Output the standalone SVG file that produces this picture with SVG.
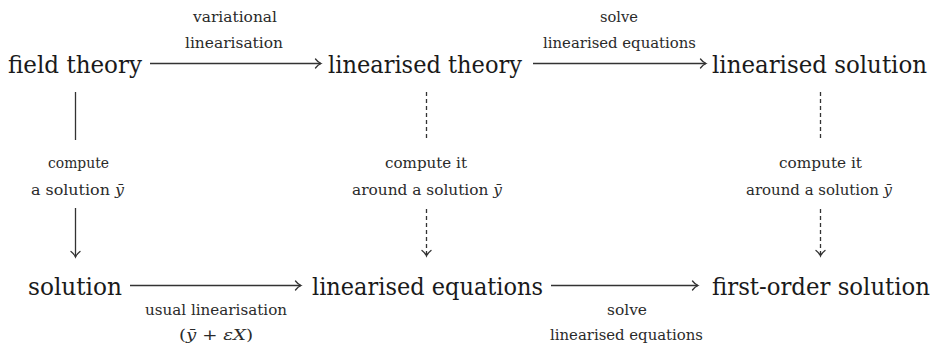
<svg xmlns="http://www.w3.org/2000/svg" width="935" height="347" viewBox="0 0 935 347">
<defs>
<marker id="to" markerUnits="userSpaceOnUse" markerWidth="14" markerHeight="14" refX="0" refY="0" viewBox="-8 -7 10 14" orient="auto" overflow="visible">
<path d="M-5.5,-4.5 C-3.5,-1.8 -1.2,-0.5 0,0 C-1.2,0.5 -3.5,1.8 -5.5,4.5" fill="none" stroke="#333" stroke-width="1.3" stroke-linecap="round"/>
</marker>
</defs>
<style>
text{font-family:'DejaVu Serif Condensed','DejaVu Serif',serif;font-stretch:condensed}
.node{font-size:25px;fill:#1a1a1a;text-anchor:middle}
.lab{font-size:14px;fill:#2a2a2a;text-anchor:middle}
.edge{stroke:#333;stroke-width:1.3;fill:none}
.dash{stroke-dasharray:4 3}
.m{font-style:italic}
</style>
<rect width="935" height="347" fill="#fff"/>
<g id="connectors">
<line class="edge" x1="150" y1="63.5" x2="321" y2="63.5" marker-end="url(#to)"/>
<line class="edge" x1="533" y1="63.5" x2="706" y2="63.5" marker-end="url(#to)"/>
<line class="edge" x1="130" y1="285.5" x2="301" y2="285.5" marker-end="url(#to)"/>
<line class="edge" x1="551" y1="285.5" x2="698" y2="285.5" marker-end="url(#to)"/>
<line class="edge" x1="75.5" y1="92" x2="75.5" y2="140"/>
<line class="edge" x1="75.5" y1="208" x2="75.5" y2="257" marker-end="url(#to)"/>
<line class="edge dash" x1="426.5" y1="92" x2="426.5" y2="138"/>
<line class="edge dash" x1="426.5" y1="209" x2="426.5" y2="256" marker-end="url(#to)"/>
<line class="edge dash" x1="820.5" y1="92" x2="820.5" y2="138"/>
<line class="edge dash" x1="820.5" y1="209" x2="820.5" y2="256" marker-end="url(#to)"/>
<text class="lab" x="235" y="22" textLength="84" lengthAdjust="spacingAndGlyphs">variational</text>
<text class="lab" x="234" y="48" textLength="98" lengthAdjust="spacingAndGlyphs">linearisation</text>
<text class="lab" x="619" y="22" textLength="38" lengthAdjust="spacingAndGlyphs">solve</text>
<text class="lab" x="619.5" y="48" textLength="153" lengthAdjust="spacingAndGlyphs">linearised equations</text>
<text class="lab" x="78.5" y="168" textLength="61" lengthAdjust="spacingAndGlyphs">compute</text>
<text class="lab" x="77.5" y="195" textLength="93" lengthAdjust="spacingAndGlyphs">a solution <tspan class="m">ȳ</tspan></text>
<text class="lab" x="426" y="168" textLength="82" lengthAdjust="spacingAndGlyphs">compute it</text>
<text class="lab" x="427" y="195" textLength="150" lengthAdjust="spacingAndGlyphs">around a solution <tspan class="m">ȳ</tspan></text>
<text class="lab" x="820.5" y="168" textLength="83" lengthAdjust="spacingAndGlyphs">compute it</text>
<text class="lab" x="819" y="195" textLength="146" lengthAdjust="spacingAndGlyphs">around a solution <tspan class="m">ȳ</tspan></text>
<text class="lab" x="216" y="315" textLength="142" lengthAdjust="spacingAndGlyphs">usual linearisation</text>
<text class="lab" x="216" y="340" textLength="74" lengthAdjust="spacingAndGlyphs">(<tspan class="m">ȳ</tspan> + <tspan class="m">εX</tspan>)</text>
<text class="lab" x="627" y="315" textLength="40" lengthAdjust="spacingAndGlyphs">solve</text>
<text class="lab" x="626.5" y="340" textLength="153" lengthAdjust="spacingAndGlyphs">linearised equations</text>
</g>
<g id="field-theory"><text class="node" x="75" y="73" textLength="134" lengthAdjust="spacingAndGlyphs">field theory</text></g>
<g id="linearised-theory"><text class="node" x="425" y="73" textLength="194" lengthAdjust="spacingAndGlyphs">linearised theory</text></g>
<g id="linearised-solution"><text class="node" x="819.5" y="73" textLength="215" lengthAdjust="spacingAndGlyphs">linearised solution</text></g>
<g id="solution"><text class="node" x="75" y="295" textLength="94" lengthAdjust="spacingAndGlyphs">solution</text></g>
<g id="linearised-equations"><text class="node" x="427.5" y="295" textLength="231" lengthAdjust="spacingAndGlyphs">linearised equations</text></g>
<g id="first-order-solution"><text class="node" x="821" y="295" textLength="218" lengthAdjust="spacingAndGlyphs">first-order solution</text></g>
</svg>
